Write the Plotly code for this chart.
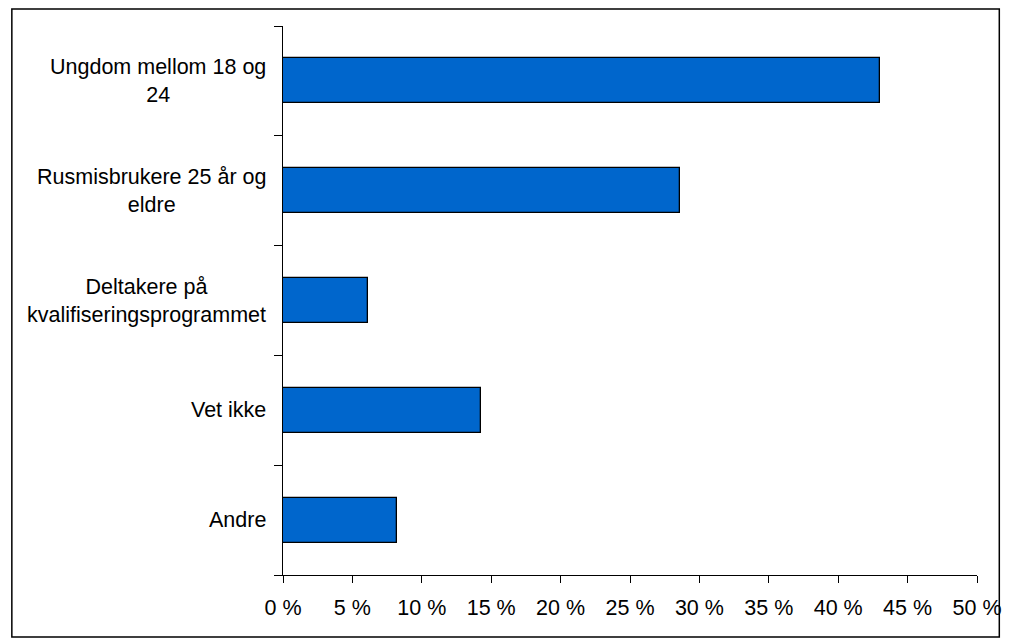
import plotly.graph_objects as go

# Andel per målgruppe (prosent)
categories = [
    "Ungdom mellom 18 og<br>24",
    "Rusmisbrukere 25 år og<br>eldre",
    "Deltakere på<br>kvalifiseringsprogrammet",
    "Vet ikke",
    "Andre",
]
values = [43.0, 28.6, 6.1, 14.3, 8.2]
x_ticks = [0, 5, 10, 15, 20, 25, 30, 35, 40, 45, 50]
x_tick_labels = [f"{v} %" for v in x_ticks]

W, H = 1014, 638
L, R, T, B = 282.5, 31.5, 26, 63
font = dict(family="Liberation Sans, Arial, sans-serif", size=21.5, color="#000000")

fig = go.Figure()
fig.add_trace(go.Bar(
    x=values,
    y=list(range(len(categories))),
    orientation="h",
    width=0.41,
    marker=dict(color="#0066CC", line=dict(color="#000000", width=1.3)),
    hoverinfo="skip",
))

# Category labels, centred multi-line text to the left of the axis
annotations = [
    dict(
        x=0, y=i, xref="paper", yref="y",
        text=name, showarrow=False,
        xanchor="right", yanchor="middle", align="center",
        xshift=-15, font=font,
    )
    for i, name in enumerate(categories)
]

plot_w = W - L - R
plot_h = H - T - B


def px_x(p):
    return (p - L) / plot_w


def px_y(p):
    return (H - B - p) / plot_h


fig.update_layout(
    width=W, height=H,
    margin=dict(l=L, r=R, t=T, b=B, pad=0),
    paper_bgcolor="#ffffff",
    plot_bgcolor="#ffffff",
    showlegend=False,
    bargap=0,
    font=font,
    annotations=annotations,
    shapes=[
        dict(
            type="rect", xref="paper", yref="paper",
            x0=px_x(9), x1=px_x(1005), y0=px_y(637), y1=px_y(9),
            line=dict(color="#000000", width=1.5), fillcolor="rgba(0,0,0,0)",
            layer="below",
        )
    ],
    xaxis=dict(
        range=[0, 50],
        tickvals=x_ticks,
        ticktext=x_tick_labels,
        ticks="outside", ticklen=7, tickwidth=1, tickcolor="#000000",
        showline=True, linecolor="#000000", linewidth=1,
        showgrid=False, zeroline=False,
        tickfont=font,
        ticklabelstandoff=6,
        fixedrange=True,
    ),
    yaxis=dict(
        type="linear",
        range=[len(categories) - 0.5, -0.5],
        tickvals=[i - 0.5 for i in range(len(categories) + 1)],
        showticklabels=False,
        ticks="outside", ticklen=8, tickwidth=1, tickcolor="#000000",
        showline=True, linecolor="#000000", linewidth=1,
        showgrid=False, zeroline=False,
        fixedrange=True,
    ),
)

fig.write_html("out.html", config={"displayModeBar": False})
